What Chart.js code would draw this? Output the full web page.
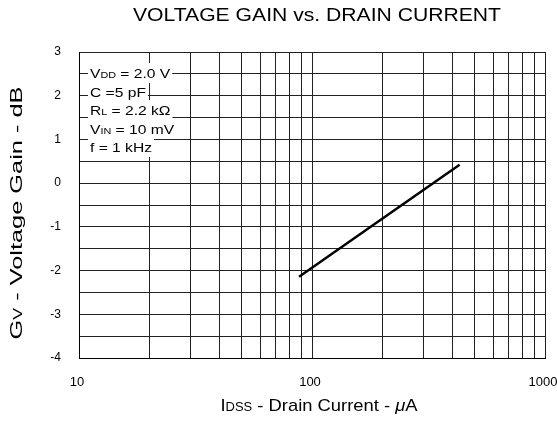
<!DOCTYPE html>
<html>
<head>
<meta charset="utf-8">
<script src="https://cdn.jsdelivr.net/npm/chart.js@4.4.0/dist/chart.umd.min.js"></script>
<style>
  html, body { margin: 0; padding: 0; background: #fff; }
</style>
</head>
<body>
<canvas id="gain" width="557" height="428"></canvas>
<script>
// data
var drainCurrent = [88, 430];        // uA
var voltageGain = [-2.14, 0.42];     // dB
var xGridValues = [10, 20, 30, 40, 50, 60, 70, 80, 90, 100, 200, 300, 400, 500, 600, 700, 800, 900, 1000];
var xTickLabels = [10, 100, 1000];
var yTickLabels = [3, 2, 1, 0, -1, -2, -3, -4];

// test conditions box, [text, size factor, italic]
var conditions = [
  [['V', 1], ['DD', 0.72], [' = 2.0 V', 1]],
  [['C =5 pF', 1]],
  [['R', 1], ['L', 0.72], [' = 2.2 k\u03A9', 1]],
  [['V', 1], ['IN', 0.72], [' = 10 mV', 1]],
  [['f = 1 kHz', 1]]
];
var conditionRows = [73, 92, 110, 129, 147];

var FONT = '"Liberation Sans", Arial, sans-serif';

function partFont(p, size) {
  return (p[2] ? 'italic ' : '') + Math.round(size * p[1]) + 'px ' + FONT;
}

function textWidth(ctx, parts, size) {
  var total = 0;
  parts.forEach(function (p) {
    ctx.font = partFont(p, size);
    total += ctx.measureText(p[0]).width;
  });
  return total;
}

// draws mixed-size text, stretched horizontally by sx
function richText(ctx, parts, x, y, size, align, sx) {
  sx = sx || 1;
  var total = textWidth(ctx, parts, size) * sx;
  var cx = align === 'center' ? x - total / 2 : x;
  ctx.save();
  ctx.translate(cx, y);
  ctx.scale(sx, 1);
  ctx.textAlign = 'left';
  ctx.textBaseline = 'alphabetic';
  var px = 0;
  parts.forEach(function (p) {
    ctx.font = partFont(p, size);
    ctx.fillText(p[0], px, 0);
    px += ctx.measureText(p[0]).width;
  });
  ctx.restore();
  return total;
}

// same, stretched to a given width
function fitText(ctx, parts, x, y, size, width) {
  var sx = width / textWidth(ctx, parts, size);
  return richText(ctx, parts, x, y, size, 'center', sx);
}

var labelsPlugin = {
  id: 'labels',
  afterDraw: function (chart) {
    var ctx = chart.ctx;
    ctx.save();
    ctx.fillStyle = '#000';

    // title
    fitText(ctx, [['VOLTAGE GAIN vs. DRAIN CURRENT', 1]], 317, 21, 18, 368);

    // x axis title
    fitText(ctx, [['I', 1], ['DSS', 0.72], [' - Drain Current - ', 1], ['\u03BC', 1, true], ['A', 1]], 319, 411, 17, 197);

    // y axis title
    ctx.save();
    ctx.translate(22, 213);
    ctx.rotate(-Math.PI / 2);
    fitText(ctx, [['G', 1], ['V', 0.72], [' - Voltage Gain - dB', 1]], 0, 0, 17, 253);
    ctx.restore();

    // conditions box
    var stretch = 1.2;
    conditions.forEach(function (parts, i) {
      var cy = conditionRows[i];
      var w = textWidth(ctx, parts, 13) * stretch;
      ctx.fillStyle = '#fff';
      ctx.fillRect(88, cy - 10, w + 4, 20);
      ctx.fillStyle = '#000';
      richText(ctx, parts, 90, cy + 5, 13, 'left', stretch);
    });
    ctx.restore();
  }
};

var ctx = document.getElementById('gain').getContext('2d');
var chart = new Chart(ctx, {
  type: 'line',
  data: {
    datasets: [{
      data: drainCurrent.map(function (x, i) { return { x: x, y: voltageGain[i] }; }),
      borderColor: '#000',
      borderWidth: 2.5,
      pointRadius: 0,
      fill: false
    }]
  },
  options: {
    responsive: false,
    animation: false,
    layout: { padding: { left: 0, top: 52, right: 12, bottom: 0 } },
    plugins: {
      legend: { display: false },
      title: { display: false },
      tooltip: { enabled: false }
    },
    scales: {
      x: {
        type: 'logarithmic',
        min: 10,
        max: 1000,
        afterBuildTicks: function (scale) {
          scale.ticks = xGridValues.map(function (v) { return { value: v }; });
        },
        afterFit: function (scale) {
          scale.height = 70;
          scale.paddingLeft = 0;
          scale.paddingRight = 0;
        },
        ticks: {
          autoSkip: false,
          maxRotation: 0,
          padding: 17,
          labelOffset: -2,
          color: '#000',
          font: { family: FONT, size: 13 },
          callback: function (v) { return xTickLabels.indexOf(v) >= 0 ? String(v) : ''; }
        },
        grid: { color: '#222', lineWidth: 1, drawTicks: false },
        border: { color: '#000', width: 1 }
      },
      y: {
        min: -4,
        max: 3,
        afterFit: function (scale) {
          scale.width = 79;
          scale.paddingTop = 0;
          scale.paddingBottom = 0;
        },
        ticks: {
          stepSize: 0.5,
          padding: 18,
          color: '#000',
          font: { family: FONT, size: 12 },
          callback: function (v) { return yTickLabels.indexOf(v) >= 0 ? String(v) : ''; }
        },
        grid: { color: '#222', lineWidth: 1, drawTicks: false },
        border: { color: '#000', width: 1 }
      }
    }
  },
  plugins: [labelsPlugin]
});
</script>
</body>
</html>
